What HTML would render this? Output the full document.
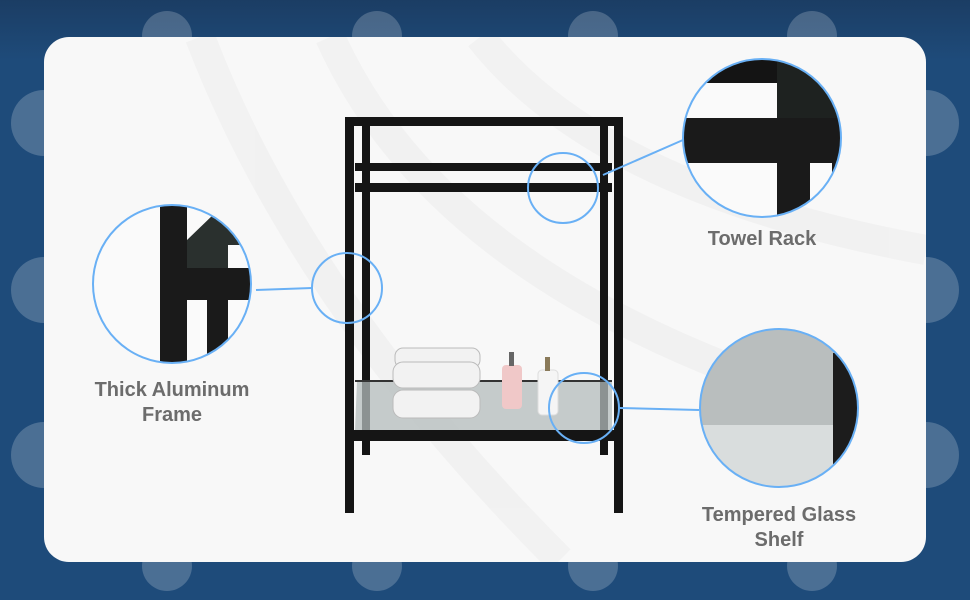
<!DOCTYPE html>
<html><head><meta charset="utf-8"><style>
html,body{margin:0;padding:0;width:970px;height:600px;overflow:hidden;background:#1d4a78}
svg{display:block}
text{font-family:"Liberation Sans",sans-serif;font-weight:bold;font-size:20px;fill:#6c6c6c;text-anchor:middle}
</style></head><body>
<svg width="970" height="600" viewBox="0 0 970 600" xmlns="http://www.w3.org/2000/svg">
<defs>
<linearGradient id="bg" x1="0" y1="0" x2="0" y2="1"><stop offset="0" stop-color="#1b3d64"/><stop offset="0.1" stop-color="#1e4b7a"/><stop offset="1" stop-color="#1e4b7a"/></linearGradient>
<clipPath id="c1"><circle cx="172" cy="284" r="79"/></clipPath>
<clipPath id="c2"><circle cx="762" cy="138" r="79"/></clipPath>
<clipPath id="c3"><circle cx="779" cy="408" r="79"/></clipPath>
<clipPath id="panel"><rect x="44" y="37" width="882" height="525" rx="25"/></clipPath>
</defs>
<rect width="970" height="600" fill="url(#bg)"/>
<g fill="#ffffff" fill-opacity="0.2">
<circle cx="167" cy="36" r="25"/><circle cx="377" cy="36" r="25"/><circle cx="593" cy="36" r="25"/><circle cx="812" cy="36" r="25"/>
<circle cx="167" cy="566" r="25"/><circle cx="377" cy="566" r="25"/><circle cx="593" cy="566" r="25"/><circle cx="812" cy="566" r="25"/>
<circle cx="44" cy="123" r="33"/><circle cx="44" cy="290" r="33"/><circle cx="44" cy="455" r="33"/>
<circle cx="926" cy="123" r="33"/><circle cx="926" cy="290" r="33"/><circle cx="926" cy="455" r="33"/>
</g>
<rect x="44" y="37" width="882" height="525" rx="25" fill="#f8f8f8"/>
<g clip-path="url(#panel)" fill="none" stroke="#eeeeee" stroke-width="30" opacity="0.6">
<path d="M200 37 Q300 300 560 560"/><path d="M330 37 Q430 260 760 380"/><path d="M480 37 Q600 190 926 250"/>
</g>
<!-- frame -->
<g fill="#151515">
<rect x="345" y="117" width="278" height="9"/>
<rect x="345" y="117" width="9" height="396"/><rect x="614" y="117" width="9" height="396"/>
<rect x="362" y="126" width="8" height="329"/><rect x="600" y="126" width="8" height="329"/>
<rect x="355" y="163" width="257" height="8"/><rect x="355" y="183" width="257" height="9"/>
</g>
<polygon points="357,381 612,381 612,430 355,430" fill="#b4bcbc" opacity="0.75"/>
<rect x="355" y="380" width="257" height="2" fill="#333"/>
<rect x="354" y="430" width="260" height="11" fill="#151515"/>
<!-- towels -->
<g fill="#f2f2f2" stroke="#bbb" stroke-width="1">
<rect x="395" y="348" width="85" height="20" rx="8"/>
<rect x="393" y="362" width="87" height="26" rx="10"/>
<rect x="393" y="390" width="87" height="28" rx="10"/>
</g>
<rect x="502" y="365" width="20" height="44" rx="4" fill="#f0c8c8"/><rect x="509" y="352" width="5" height="14" fill="#666"/>
<rect x="538" y="370" width="20" height="45" rx="4" fill="#f5f5f5" stroke="#ddd"/><rect x="545" y="357" width="5" height="14" fill="#8a7a5a"/>
<!-- connectors -->
<g stroke="#69b0f5" stroke-width="2" fill="none">
<circle cx="563" cy="188" r="35"/><circle cx="347" cy="288" r="35"/><circle cx="584" cy="408" r="35"/>
<line x1="256" y1="290" x2="312" y2="288"/>
<line x1="603" y1="175" x2="683" y2="140"/>
<line x1="620" y1="408" x2="699" y2="410"/>
</g>
<!-- big circle 1 -->
<g clip-path="url(#c1)">
<rect x="90" y="200" width="170" height="170" fill="#fafafa"/>
<rect x="160" y="200" width="27" height="170" fill="#1a1a1a"/>
<rect x="187" y="268" width="70" height="32" fill="#1a1a1a"/>
<rect x="207" y="268" width="21" height="110" fill="#1a1a1a"/>
<polygon points="187,240 215,213 260,213 260,268 187,268" fill="#2a302e"/>
<rect x="228" y="245" width="32" height="23" fill="#fafafa"/>
</g>
<circle cx="172" cy="284" r="79" fill="none" stroke="#69b0f5" stroke-width="2"/>
<!-- big circle 2 -->
<g clip-path="url(#c2)">
<rect x="680" y="55" width="170" height="170" fill="#fafafa"/>
<rect x="680" y="55" width="170" height="28" fill="#141414"/>
<rect x="777" y="55" width="70" height="65" fill="#1e2220"/>
<rect x="680" y="118" width="170" height="45" fill="#1a1a1a"/>
<rect x="777" y="163" width="33" height="62" fill="#1a1a1a"/>
<rect x="832" y="163" width="20" height="62" fill="#1a1a1a"/>
</g>
<circle cx="762" cy="138" r="79" fill="none" stroke="#69b0f5" stroke-width="2"/>
<!-- big circle 3 -->
<g clip-path="url(#c3)">
<rect x="695" y="325" width="170" height="170" fill="#b9bebe"/>
<rect x="695" y="425" width="170" height="70" fill="#d9dddd"/>
<rect x="833" y="353" width="30" height="120" fill="#1c1c1c"/>
</g>
<circle cx="779" cy="408" r="79" fill="none" stroke="#69b0f5" stroke-width="2"/>
<text x="172" y="396">Thick Aluminum</text>
<text x="172" y="421">Frame</text>
<text x="762" y="245">Towel Rack</text>
<text x="779" y="521">Tempered Glass</text>
<text x="779" y="546">Shelf</text>
</svg>
</body></html>
